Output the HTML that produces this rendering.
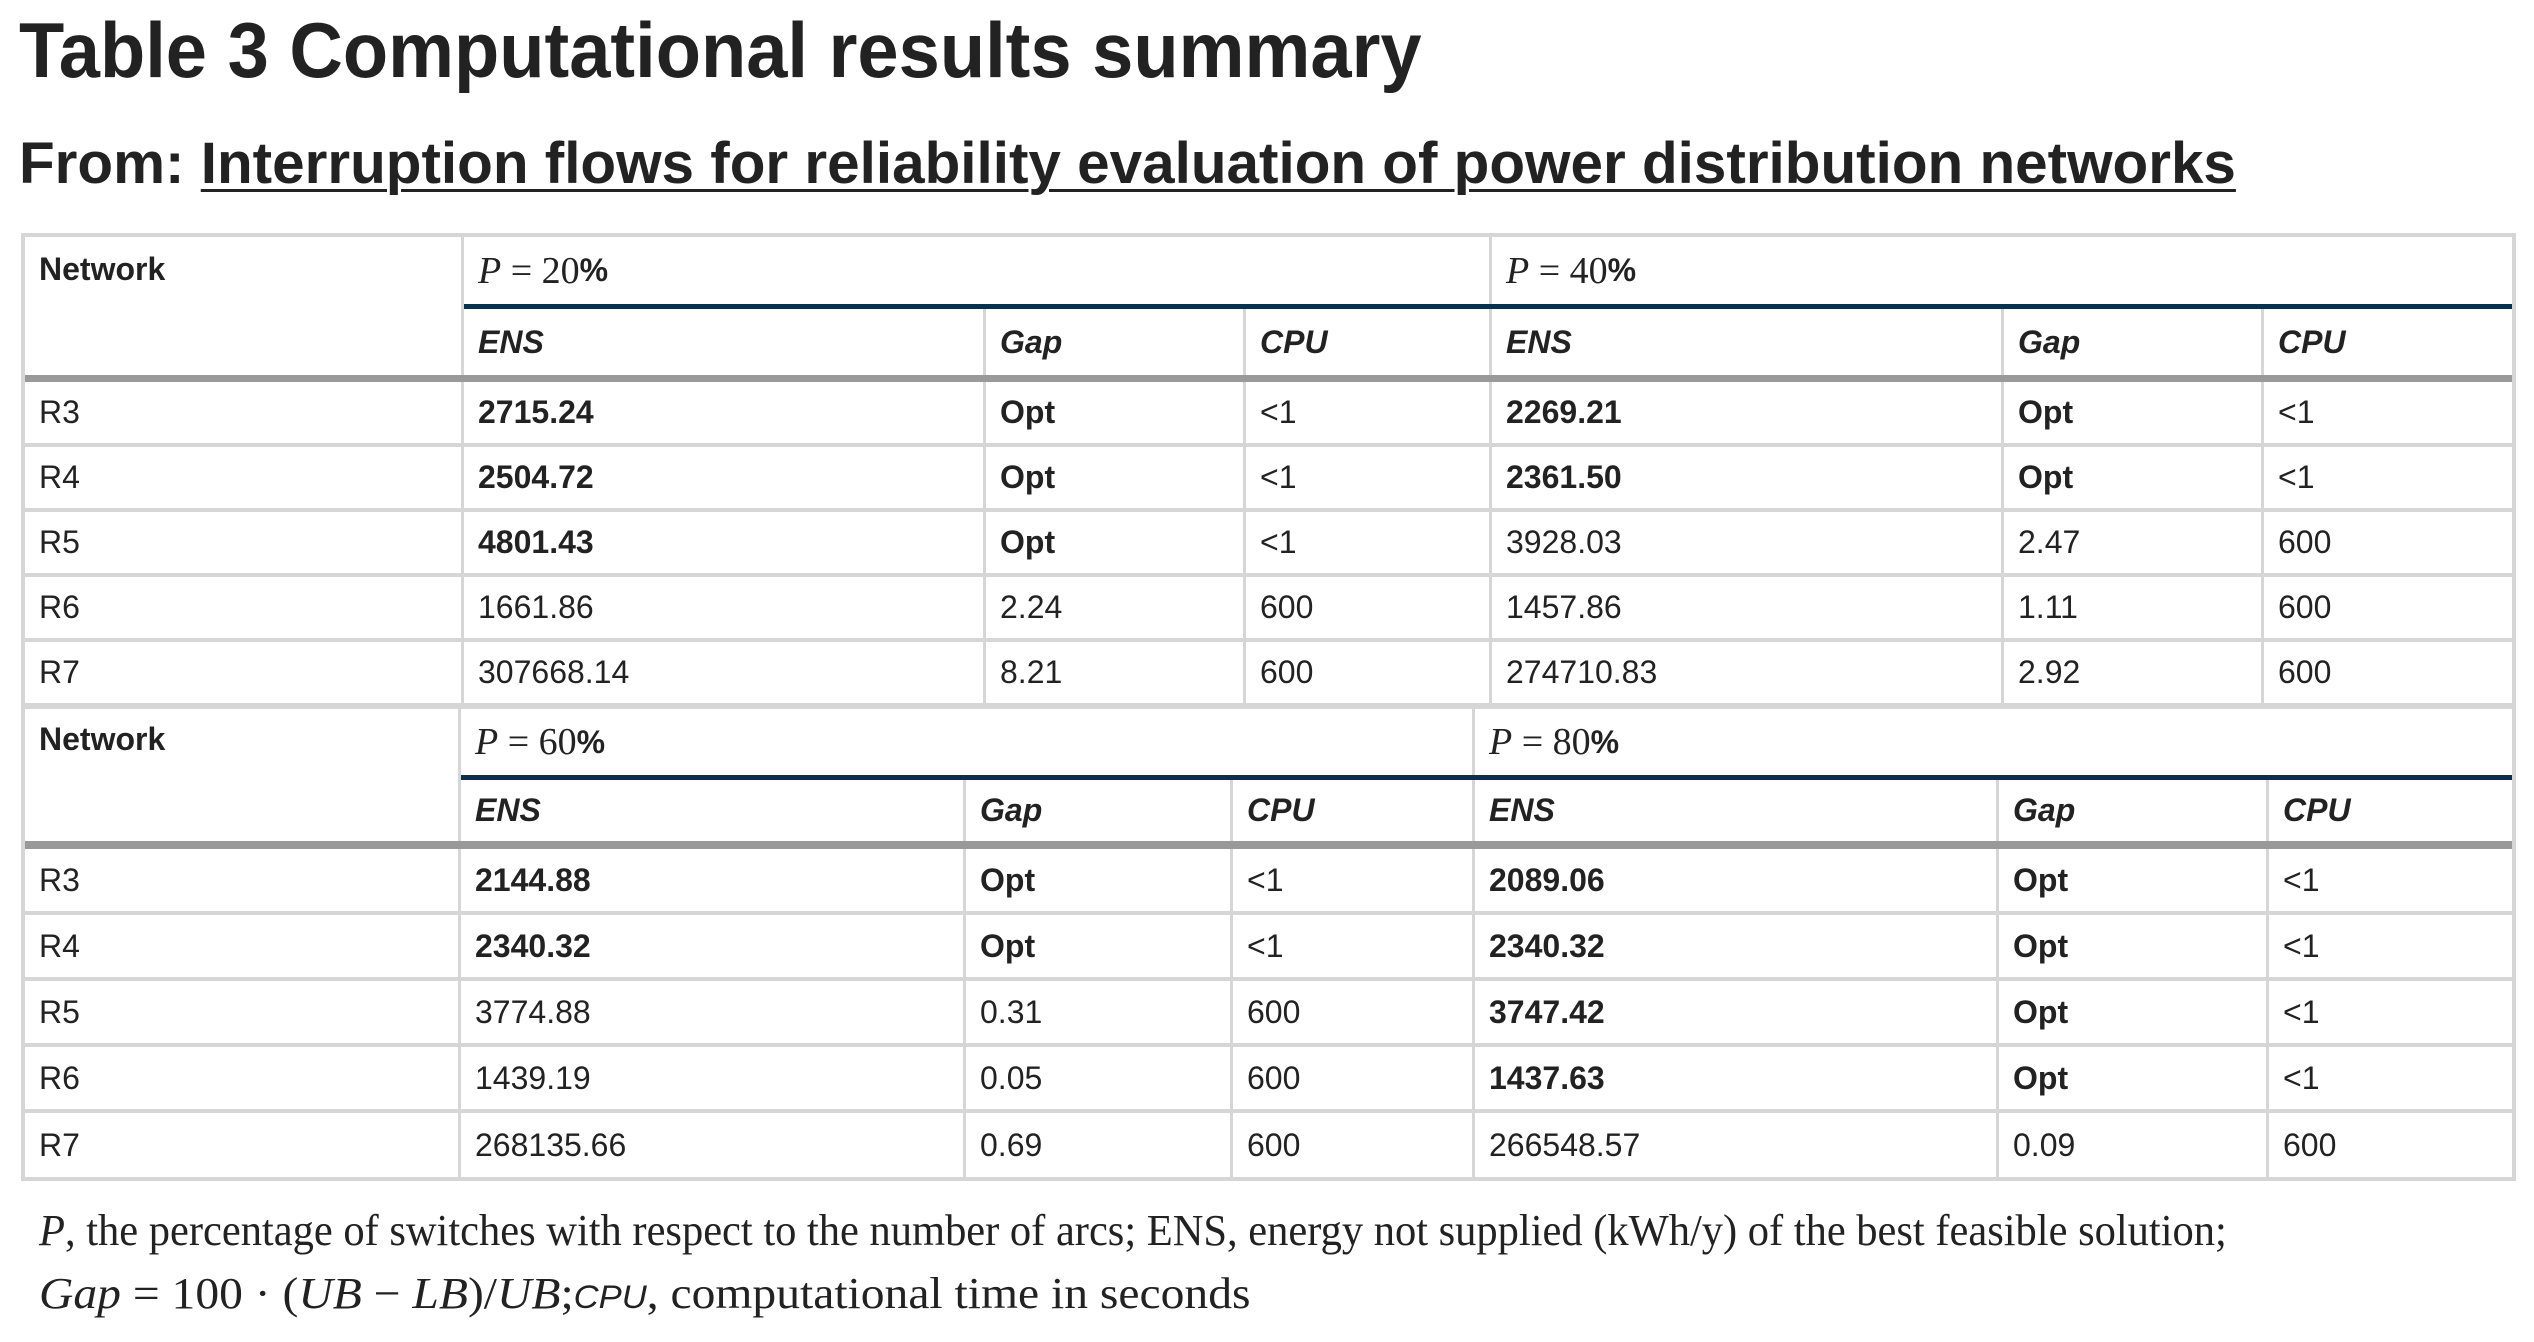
<!DOCTYPE html>
<html><head><meta charset="utf-8">
<style>
*{box-sizing:border-box;margin:0;padding:0}
body{width:2534px;height:1342px;background:#fff;position:relative;overflow:hidden;color:#222;font-family:"Liberation Sans",sans-serif}
.fit{position:absolute;white-space:nowrap;transform-origin:0 0}
#title{left:19px;top:0px;font-size:78px;font-weight:bold;line-height:100px;color:#222}
#sub{left:19px;top:124px;font-size:58px;font-weight:bold;line-height:80px;color:#222}
#sub u{text-decoration-thickness:3px;text-underline-offset:6px}
#wrap{position:absolute;left:21px;top:233px;width:2495px;background:#d6d6d6;padding:4px}
.hdr{display:flex;background:#fff}
.c{border-right:3px solid #d6d6d6;font-size:32px;padding-left:14px;display:flex;align-items:center;white-space:nowrap;background:#fff}
.c.last{border-right:none}
.row{display:flex;height:65px;border-bottom:4px solid #d6d6d6;background:#fff}
.b2 .row{height:66px}
.row.end{border-bottom:none;height:61px}
.b2 .row.end{height:64px}
.bold{font-weight:bold}
.ital{font-style:italic;font-weight:bold}
.gray{height:7px;background:#999}
.b2 .gray{height:8px}
.p{font-family:"Liberation Serif",serif;font-size:38px}
.p i{font-style:italic}
.p b{font-family:"Liberation Sans",sans-serif;font-size:32px}
.foot{font-family:"Liberation Serif",serif;font-size:44px;line-height:56px;color:#222}
</style></head><body>
<div id="title" class="fit" data-fit="1403">Table 3 Computational results summary</div>
<div id="sub" class="fit" data-fit="2217">From: <u>Interruption flows for reliability evaluation of power distribution networks</u></div>

<div id="wrap">
 <div class="b1">
  <div class="hdr" style="height:138px">
   <div class="c bold" style="width:439px;align-items:flex-start;padding-top:14px">Network</div>
   <div style="width:2048px;display:flex;flex-direction:column">
    <div style="display:flex;height:72px;border-bottom:5px solid #0b3049">
     <div class="c p" style="width:1028px"><i>P</i>&nbsp;=&nbsp;20<b>%</b></div>
     <div class="c p last" style="width:1020px"><i>P</i>&nbsp;=&nbsp;40<b>%</b></div>
    </div>
    <div style="display:flex;height:66px">
     <div class="c ital" style="width:522px">ENS</div>
     <div class="c ital" style="width:260px">Gap</div>
     <div class="c ital" style="width:246px">CPU</div>
     <div class="c ital" style="width:512px">ENS</div>
     <div class="c ital" style="width:260px">Gap</div>
     <div class="c ital last" style="width:248px">CPU</div>
    </div>
   </div>
  </div>
  <div class="gray"></div>
  <div id="rows1"></div>
 </div>
 <div style="height:6px"></div>
 <div class="b2">
  <div class="hdr" style="height:132px">
   <div class="c bold" style="width:436px;align-items:flex-start;padding-top:12px">Network</div>
   <div style="width:2051px;display:flex;flex-direction:column">
    <div style="display:flex;height:71px;border-bottom:5px solid #0b3049">
     <div class="c p" style="width:1014px"><i>P</i>&nbsp;=&nbsp;60<b>%</b></div>
     <div class="c p last" style="width:1037px"><i>P</i>&nbsp;=&nbsp;80<b>%</b></div>
    </div>
    <div style="display:flex;height:61px">
     <div class="c ital" style="width:505px">ENS</div>
     <div class="c ital" style="width:267px">Gap</div>
     <div class="c ital" style="width:242px">CPU</div>
     <div class="c ital" style="width:524px">ENS</div>
     <div class="c ital" style="width:270px">Gap</div>
     <div class="c ital last" style="width:243px">CPU</div>
    </div>
   </div>
  </div>
  <div class="gray"></div>
  <div id="rows2"></div>
 </div>
</div>

<div class="fit foot" id="f1" data-fit="2188" style="left:39px;top:1203px"><i>P</i>, the percentage of switches with respect to the number of arcs; ENS, energy not supplied (kWh/y) of the best feasible solution;</div>
<div class="fit foot" id="f2" data-fit="1212" style="left:39px;top:1266px"><i>Gap</i> = 100 · (<i>UB</i> − <i>LB</i>)/<i>UB</i>;<span style="font-family:'Liberation Sans',sans-serif;font-size:32px;font-style:italic">CPU</span>, computational time in seconds</div>

<script>
const networks = ["R3","R4","R5","R6","R7"];
const block1 = [
 ["2715.24*","Opt*","<1","2269.21*","Opt*","<1"],
 ["2504.72*","Opt*","<1","2361.50*","Opt*","<1"],
 ["4801.43*","Opt*","<1","3928.03","2.47","600"],
 ["1661.86","2.24","600","1457.86","1.11","600"],
 ["307668.14","8.21","600","274710.83","2.92","600"]
];
const block2 = [
 ["2144.88*","Opt*","<1","2089.06*","Opt*","<1"],
 ["2340.32*","Opt*","<1","2340.32*","Opt*","<1"],
 ["3774.88","0.31","600","3747.42*","Opt*","<1"],
 ["1439.19","0.05","600","1437.63*","Opt*","<1"],
 ["268135.66","0.69","600","266548.57","0.09","600"]
];
const widths1 = [439,522,260,246,512,260,248];
const widths2 = [436,505,267,242,524,270,243];
function build(id, data, widths){
 const host = document.getElementById(id);
 data.forEach((vals, r) => {
  const row = document.createElement('div');
  row.className = 'row' + (r === data.length-1 ? ' end' : '');
  
  
  const cells = [networks[r]].concat(vals);
  cells.forEach((v, i) => {
   const c = document.createElement('div');
   c.className = 'c' + (i === cells.length-1 ? ' last' : '');
   c.style.width = widths[i] + 'px';
   let t = v;
   if (t.endsWith('*')) { t = t.slice(0,-1); c.classList.add('bold'); }
   c.textContent = t;
   
   
   row.appendChild(c);
  });
  host.appendChild(row);
 });
}
build('rows1', block1, widths1);
build('rows2', block2, widths2);
document.querySelectorAll('.fit').forEach(el => {
 const target = +el.getAttribute('data-fit');
 const w = el.scrollWidth;
 if (w > 0) el.style.transform = 'scaleX(' + (target / w) + ')';
});
</script>
</body></html>
